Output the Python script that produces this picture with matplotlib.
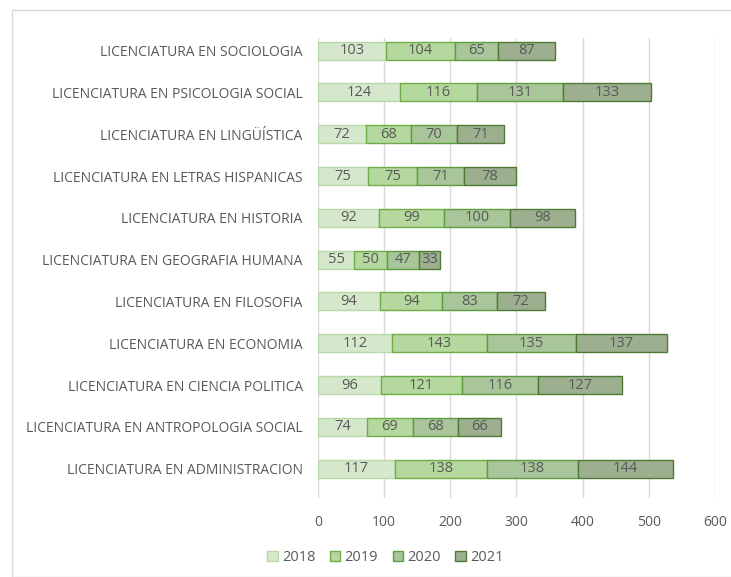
import numpy as np
import matplotlib.pyplot as plt
from matplotlib.patches import Rectangle

carreras = [
    "LICENCIATURA EN ADMINISTRACION",
    "LICENCIATURA EN ANTROPOLOGIA SOCIAL",
    "LICENCIATURA EN CIENCIA POLITICA",
    "LICENCIATURA EN ECONOMIA",
    "LICENCIATURA EN FILOSOFIA",
    "LICENCIATURA EN GEOGRAFIA HUMANA",
    "LICENCIATURA EN HISTORIA",
    "LICENCIATURA EN LETRAS HISPANICAS",
    "LICENCIATURA EN LINGÜÍSTICA",
    "LICENCIATURA EN PSICOLOGIA SOCIAL",
    "LICENCIATURA EN SOCIOLOGIA",
]
y2018 = [117, 74, 96, 112, 94, 55, 92, 75, 72, 124, 103]
y2019 = [138, 69, 121, 143, 94, 50, 99, 75, 68, 116, 104]
y2020 = [138, 68, 116, 135, 83, 47, 100, 71, 70, 131, 65]
y2021 = [144, 66, 127, 137, 72, 33, 98, 78, 71, 133, 87]
anios = ["2018", "2019", "2020", "2021"]

fills = ["#d5e8cb", "#b4d89d", "#a8c69a", "#9cb08f"]
edges = ["#b8d8a8", "#70ad47", "#5f9c3f", "#4e7a33"]
gris = "#595959"

plt.rcParams['font.family'] = ['Open Sans', 'DejaVu Sans']

fig = plt.figure(figsize=(7.31, 5.77), dpi=100)
ax = fig.add_axes([0.435, 0.137, 0.543, 0.797])

# marco del grafico
fig.patches.append(Rectangle((12 / 731, 0), 1, 1 - 10 / 577, transform=fig.transFigure,
                             fill=False, edgecolor="#d9d9d9", linewidth=1))

y = np.arange(len(carreras))
left = np.zeros(len(carreras))
for serie, nombre, fc, ec in zip([y2018, y2019, y2020, y2021], anios, fills, edges):
    bars = ax.barh(y, serie, left=left, height=0.43, color=fc, edgecolor=ec,
                   linewidth=1, label=nombre, zorder=3)
    ax.bar_label(bars, labels=[str(v) for v in serie], label_type="center",
                 color=gris, fontsize=10.5)
    left += np.array(serie)

ax.set_xlim(0, 600)
ax.set_ylim(-0.7, len(carreras) - 0.7)
ax.set_xticks(range(0, 601, 100))
ax.set_yticks(y)
ax.set_yticklabels(carreras)
ax.tick_params(axis="x", length=0, colors=gris, labelsize=10, pad=12)
ax.tick_params(axis="y", length=0, colors=gris, labelsize=10, pad=11)
ax.grid(axis="x", color="#d9d9d9", linewidth=1, zorder=0)
for s in ax.spines.values():
    s.set_visible(False)

ax.legend(loc="upper center", bbox_to_anchor=(0.17, -0.085), ncol=4, frameon=False,
          fontsize=10.5, labelcolor=gris, handlelength=0.7, handleheight=0.7,
          handletextpad=0.3, columnspacing=1.0)

fig.savefig("out.png", dpi=100)
